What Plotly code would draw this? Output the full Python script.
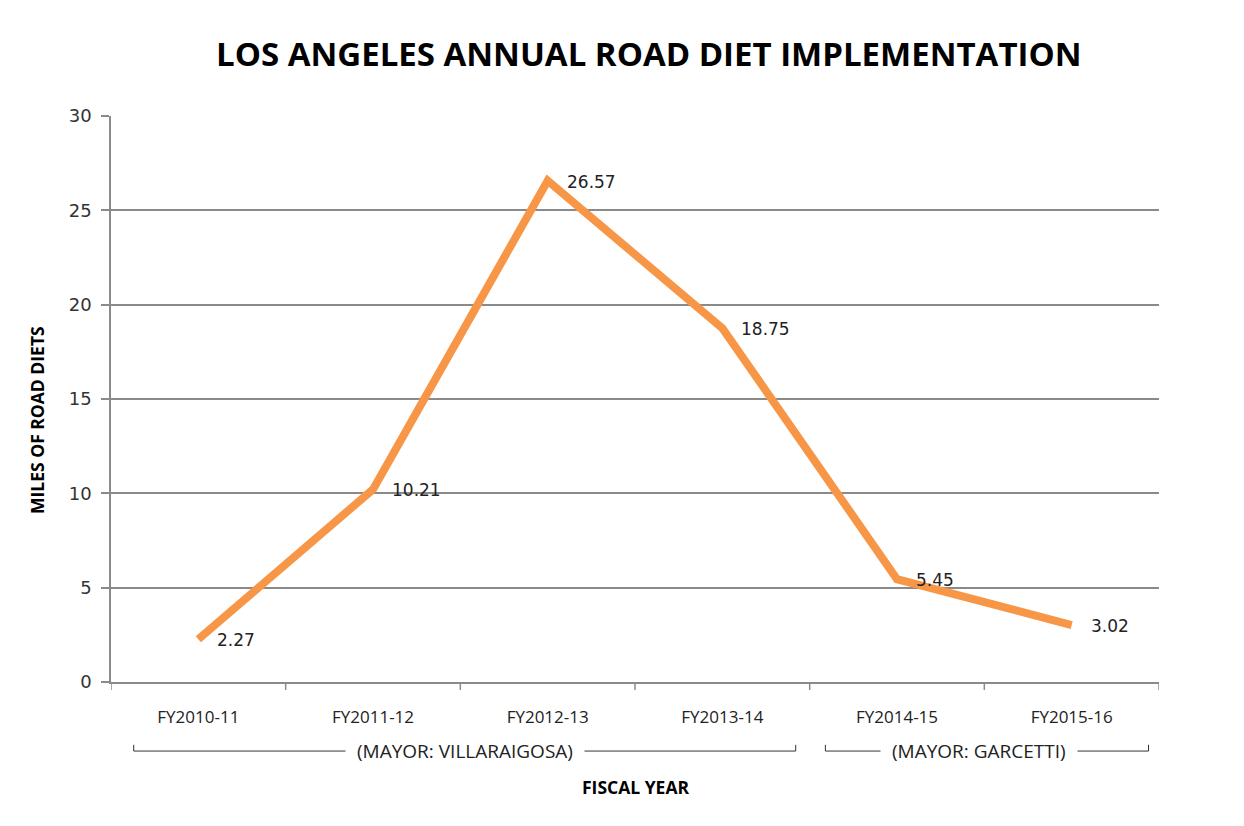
import plotly.graph_objects as go

categories = ["FY2010-11", "FY2011-12", "FY2012-13", "FY2013-14", "FY2014-15", "FY2015-16"]
miles = [2.27, 10.21, 26.57, 18.75, 5.45, 3.02]
labels = ["2.27", "10.21", "26.57", "18.75", "5.45", "3.02"]
y_ticks = [0, 5, 10, 15, 20, 25, 30]

# mayor groups: (label, first index, last index)
mayors = [("(MAYOR: VILLARAIGOSA)", 0, 3), ("(MAYOR: GARCETTI)", 4, 5)]

GRID = "#8a8a8a"
ORANGE = "#F79646"

fig = go.Figure()
fig.add_trace(go.Scatter(
    x=list(range(len(categories))), y=miles, mode="lines",
    line=dict(color=ORANGE, width=8), hoverinfo="skip", showlegend=False,
))

annotations = []
for i, (v, t) in enumerate(zip(miles, labels)):
    annotations.append(dict(x=i, y=v, xref="x", yref="y", text=t, showarrow=False,
                            xanchor="left", yanchor="middle", xshift=17, yshift=-1,
                            font=dict(family="DejaVu Sans", size=17, color="#222222")))

shapes = []
bracket_y = -0.122
pads = [(0.13, 0.08), (0.09, 0.06)]
label_shift = [0, -8]
for (name, a, b), (pl, pr), sh in zip(mayors, pads, label_shift):
    x0 = a - 0.5 + pl
    x1 = b + 0.5 - pr
    shapes.append(dict(type="line", xref="x", yref="paper", x0=x0, x1=x1, y0=bracket_y, y1=bracket_y,
                       line=dict(color="#333333", width=1)))
    for xx in (x0, x1):
        shapes.append(dict(type="line", xref="x", yref="paper", x0=xx, x1=xx, y0=bracket_y, y1=bracket_y + 0.011,
                           line=dict(color="#333333", width=1)))
    annotations.append(dict(x=(x0 + x1) / 2, y=bracket_y, xref="x", yref="paper", xshift=sh,
                            text=name, showarrow=False, xanchor="center", yanchor="middle",
                            bgcolor="white", borderpad=11,
                            font=dict(family="Open Sans", size=19, color="#222222")))

annotations.append(dict(x=0.513, y=1.111, xref="paper", yref="paper",
                        text="<b>LOS ANGELES ANNUAL ROAD DIET IMPLEMENTATION</b>",
                        showarrow=False, xanchor="center", yanchor="middle",
                        font=dict(family="Open Sans", size=33, color="#000000")))
annotations.append(dict(x=-0.0706, y=0.463, xref="paper", yref="paper", text="<b>MILES OF ROAD DIETS</b>",
                        showarrow=False, textangle=-90, xanchor="center", yanchor="middle",
                        font=dict(family="Open Sans", size=17.5, color="#000000")))
annotations.append(dict(x=0.5, y=-0.1855, xref="paper", yref="paper", text="<b>FISCAL YEAR</b>",
                        showarrow=False, xanchor="center", yanchor="middle",
                        font=dict(family="Open Sans", size=17.5, color="#000000")))

# category boundary ticks on x axis
for k in range(len(categories) + 1):
    shapes.append(dict(type="line", xref="x", yref="paper", x0=k - 0.5, x1=k - 0.5, y0=0, y1=-0.014,
                       line=dict(color=GRID, width=1.5)))

fig.update_layout(
    width=1244, height=826,
    margin=dict(l=103, r=93, t=108, b=152),
    paper_bgcolor="white", plot_bgcolor="white",
    shapes=shapes, annotations=annotations,
    xaxis=dict(
        tickmode="array", tickvals=list(range(len(categories))), ticktext=categories,
        range=[-0.5, len(categories) - 0.5], showgrid=False, zeroline=False,
        showline=True, linecolor=GRID, linewidth=1.5,
        ticks="", ticklabelstandoff=19,
        tickfont=dict(family="Open Sans", size=17, color="#222222"),
    ),
    yaxis=dict(
        range=[0, 30], tickvals=y_ticks, showgrid=True, gridcolor=GRID, gridwidth=1.5,
        zeroline=False, showline=True, linecolor=GRID, linewidth=1.5,
        ticks="outside", ticklen=8, tickcolor=GRID, tickwidth=1.5, ticklabelstandoff=6,
        tickfont=dict(family="DejaVu Sans", size=18, color="#333333"),
    ),
)

fig.write_html("out.html")
